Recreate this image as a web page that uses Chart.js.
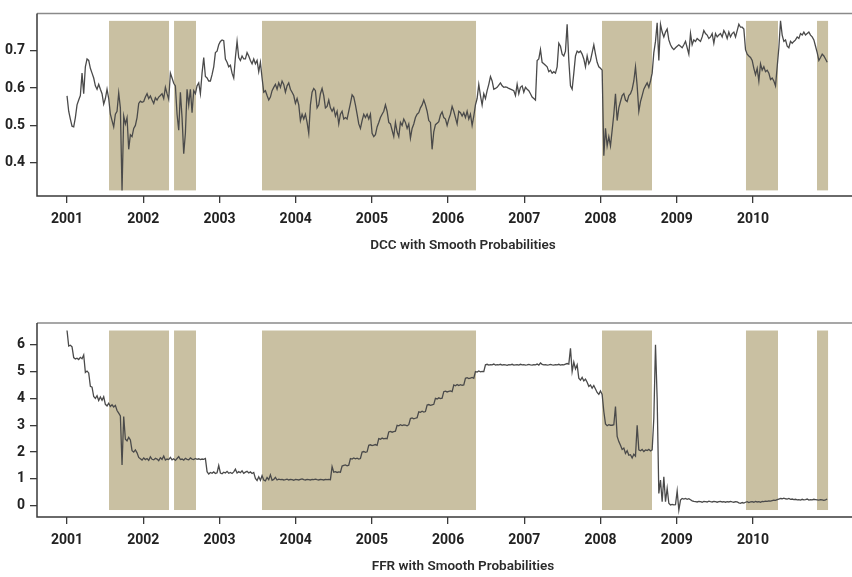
<!DOCTYPE html>
<html>
<head>
<meta charset="utf-8">
<script src="https://cdn.jsdelivr.net/npm/chart.js@4.4.1/dist/chart.umd.min.js"></script>
<style>
  body { margin: 0; background: #fff; }
  #wrap { position: relative; width: 852px; height: 577px; overflow: hidden; }
  #wrap canvas { position: absolute; left: 0; }
  #dccChart { top: 0; }
  #ffrChart { top: 290px; }
</style>
</head>
<body>
<div id="wrap">
  <canvas id="dccChart" width="860" height="290"></canvas>
  <canvas id="ffrChart" width="860" height="287"></canvas>
</div>
<script>
// sampling of both series (decimal years, ~8 days apart)
const seriesStart = 2001.0;
const sampleStep = 0.021872;

const tickYears = [2001, 2002, 2003, 2004, 2005, 2006, 2007, 2008, 2009, 2010];
const dccTicks = [0.4, 0.5, 0.6, 0.7];
const ffrTicks = [0, 1, 2, 3, 4, 5, 6];

// high-volatility regimes (smoothed probabilities), decimal years
const regimeStart = [2001.551, 2002.404, 2003.558, 2008.019, 2009.908, 2010.840];
const regimeEnd   = [2002.338, 2002.692, 2006.366, 2008.675, 2010.328, 2010.985];

// DCC correlation
const dccValues = [
  0.579, 0.538, 0.517, 0.498, 0.496, 0.521, 0.555, 0.568, 0.580, 0.640,
  0.585, 0.657, 0.678, 0.674, 0.653, 0.640, 0.627, 0.606, 0.597, 0.610,
  0.597, 0.585, 0.557, 0.572, 0.597, 0.572, 0.530, 0.513, 0.496, 0.530,
  0.538, 0.587, 0.547, 0.326, 0.525, 0.504, 0.521, 0.436, 0.475, 0.470,
  0.492, 0.500, 0.521, 0.559, 0.565, 0.562, 0.564, 0.576, 0.585, 0.572,
  0.579, 0.568, 0.559, 0.574, 0.568, 0.576, 0.580, 0.585, 0.572, 0.602,
  0.585, 0.570, 0.640, 0.627, 0.613, 0.606, 0.530, 0.487, 0.589, 0.521,
  0.424, 0.479, 0.597, 0.555, 0.597, 0.534, 0.593, 0.585, 0.606, 0.614,
  0.585, 0.640, 0.682, 0.631, 0.627, 0.619, 0.619, 0.636, 0.657, 0.695,
  0.699, 0.716, 0.725, 0.729, 0.727, 0.678, 0.669, 0.657, 0.661, 0.640,
  0.627, 0.682, 0.725, 0.682, 0.674, 0.686, 0.678, 0.678, 0.695, 0.686,
  0.674, 0.665, 0.678,
  0.665, 0.674, 0.644, 0.669, 0.627, 0.589, 0.593, 0.580, 0.568, 0.576,
  0.593, 0.602, 0.610, 0.597, 0.614, 0.602, 0.619, 0.610, 0.589, 0.606,
  0.614, 0.597, 0.589, 0.580, 0.559, 0.572, 0.555, 0.513, 0.530, 0.517,
  0.530, 0.508, 0.479, 0.555, 0.589, 0.599, 0.593, 0.547, 0.555, 0.585,
  0.599, 0.580, 0.547, 0.551, 0.568, 0.547, 0.538, 0.547, 0.525, 0.538,
  0.504, 0.530, 0.538, 0.517, 0.521, 0.517, 0.538, 0.559, 0.582, 0.576,
  0.555, 0.530, 0.504, 0.492, 0.513, 0.530, 0.521, 0.530, 0.517, 0.530,
  0.479, 0.470, 0.475, 0.496, 0.508, 0.521, 0.530, 0.538, 0.555, 0.538,
  0.508, 0.504, 0.487, 0.470, 0.508, 0.483, 0.470, 0.508, 0.500, 0.517,
  0.508, 0.492, 0.504, 0.466, 0.492, 0.504, 0.521, 0.530, 0.534, 0.547,
  0.555, 0.568, 0.555, 0.538, 0.513, 0.508, 0.436, 0.483, 0.502, 0.506,
  0.510, 0.528, 0.536, 0.521, 0.517, 0.500, 0.517,
  0.530, 0.551, 0.538, 0.521, 0.504, 0.538, 0.534, 0.525, 0.534, 0.521,
  0.538, 0.517, 0.530, 0.500, 0.525, 0.555, 0.572, 0.610, 0.580, 0.555,
  0.585, 0.572, 0.593, 0.610, 0.631, 0.619, 0.597, 0.599, 0.602, 0.608,
  0.614, 0.606, 0.602, 0.603, 0.602, 0.599, 0.597, 0.595, 0.593, 0.580,
  0.610, 0.585, 0.602, 0.606, 0.589, 0.602, 0.597, 0.593, 0.585, 0.576,
  0.572, 0.568, 0.674, 0.678, 0.703, 0.669, 0.665, 0.661, 0.657, 0.644,
  0.648, 0.640, 0.644, 0.640, 0.657, 0.720, 0.712, 0.691, 0.686, 0.699,
  0.771, 0.674, 0.606, 0.597, 0.640, 0.686, 0.699, 0.695, 0.699, 0.691,
  0.678, 0.657, 0.686, 0.665, 0.674, 0.695, 0.716, 0.691, 0.669, 0.657,
  0.653, 0.648, 0.419, 0.492, 0.445, 0.470, 0.445, 0.487, 0.530, 0.585,
  0.513, 0.547, 0.564, 0.580, 0.585, 0.568, 0.564, 0.580, 0.585, 0.597,
  0.619, 0.657, 0.606, 0.538, 0.564, 0.580, 0.597,
  0.606, 0.614, 0.602, 0.619, 0.640, 0.695, 0.725, 0.775, 0.674, 0.771,
  0.750, 0.737, 0.750, 0.758, 0.729, 0.716, 0.708, 0.703, 0.708, 0.712,
  0.716, 0.712, 0.708, 0.716, 0.725, 0.708, 0.691, 0.746, 0.716, 0.729,
  0.725, 0.733, 0.729, 0.725, 0.737, 0.754, 0.746, 0.742, 0.733, 0.737,
  0.746, 0.720, 0.746, 0.737, 0.742, 0.746, 0.737, 0.754, 0.746, 0.733,
  0.750, 0.737, 0.746, 0.750, 0.737, 0.754, 0.771, 0.763, 0.763, 0.758,
  0.703, 0.691, 0.686, 0.682, 0.674, 0.653, 0.636, 0.653, 0.619, 0.665,
  0.648, 0.657, 0.644, 0.648, 0.640, 0.623, 0.627, 0.619, 0.606, 0.657,
  0.708, 0.780, 0.742, 0.725, 0.729, 0.712, 0.708, 0.725, 0.720, 0.725,
  0.729, 0.737, 0.733, 0.746, 0.742, 0.750, 0.742, 0.746, 0.750, 0.742,
  0.737, 0.729, 0.712, 0.695, 0.674, 0.682, 0.691, 0.686, 0.678, 0.669
];

// Federal funds rate (%)
const ffrValues = [
  6.53, 5.95, 5.98, 5.92,
  5.52, 5.47, 5.50, 5.45, 5.53, 5.48,
  5.62,
  4.97, 5.02, 4.95,
  4.45, 4.42,
  4.07, 4.00, 4.10, 3.92, 4.05, 3.93, 4.06,
  3.78, 3.72, 3.82, 3.70, 3.76, 3.68, 3.74,
  3.55, 3.45, 3.35,
  1.52,
  3.32,
  2.48, 2.42, 2.55, 2.45,
  2.05, 2.00, 2.08, 1.97,
  1.80, 1.75, 1.70, 1.78, 1.72, 1.76, 1.69, 1.82, 1.73, 1.71,
  1.77, 1.74, 1.68, 1.79, 1.73, 1.85, 1.70, 1.74, 1.72, 1.80,
  1.71, 1.75, 1.69, 1.76, 1.83, 1.72, 1.74, 1.70, 1.77, 1.73,
  1.71, 1.78, 1.74, 1.72, 1.76, 1.73, 1.75, 1.72, 1.74, 1.73,
  1.76,
  1.27, 1.18, 1.24, 1.21, 1.26, 1.20, 1.23, 1.50, 1.22, 1.19,
  1.25, 1.22, 1.28, 1.21, 1.24, 1.20, 1.26, 1.36, 1.22, 1.27,
  1.23, 1.30, 1.21, 1.25, 1.28, 1.22, 1.26, 1.20, 1.24,
  1.02, 0.94, 1.08, 0.95, 1.12, 0.96, 0.93, 1.05, 0.97, 1.15,
  0.95, 0.98, 1.06, 0.96, 0.99, 0.97, 0.98, 0.96, 0.97, 0.99,
  0.96, 0.98, 0.97, 0.95, 0.98, 0.97, 0.96, 0.98, 1.00, 0.97,
  0.96, 0.98, 0.97, 0.96, 0.98, 0.97, 0.99, 0.97, 0.96, 0.98,
  0.97, 0.96, 0.98, 0.97, 0.98, 0.97,
  1.46,
  1.25, 1.27, 1.24, 1.26, 1.25,
  1.48, 1.50, 1.52, 1.49, 1.51,
  1.76, 1.74, 1.78, 1.75, 1.77, 1.74, 1.76,
  2.00, 2.02, 1.99, 2.01,
  2.25, 2.27, 2.24, 2.26, 2.28, 2.25,
  2.50, 2.48, 2.52, 2.49, 2.51, 2.50,
  2.75, 2.77, 2.74, 2.76, 2.78,
  3.00, 2.98, 3.02, 2.99, 3.01, 3.00, 2.98, 3.02,
  3.25, 3.27, 3.24, 3.26, 3.28,
  3.50, 3.48, 3.52, 3.49, 3.51,
  3.75, 3.77, 3.74, 3.76, 3.78,
  4.00, 3.98, 4.02, 3.99, 4.01,
  4.25, 4.27, 4.24, 4.26, 4.28, 4.25,
  4.50, 4.47, 4.52, 4.48, 4.51, 4.49, 4.50,
  4.75, 4.77, 4.74, 4.76, 4.78, 4.75,
  5.00, 4.98, 5.02, 4.99, 5.01, 5.00,
  5.25, 5.27, 5.24, 5.26, 5.25, 5.28, 5.24, 5.26, 5.25, 5.27,
  5.24, 5.26, 5.25, 5.23, 5.26, 5.25, 5.27, 5.24, 5.25, 5.26,
  5.24, 5.27, 5.25, 5.26, 5.24, 5.25, 5.27, 5.25, 5.24, 5.26,
  5.25, 5.28, 5.24, 5.32, 5.27, 5.25, 5.26, 5.24, 5.25, 5.27,
  5.25, 5.24, 5.26, 5.25, 5.27, 5.24, 5.26, 5.25, 5.28, 5.30,
  5.28, 5.87, 5.00, 5.35, 5.10, 5.25,
  4.75, 4.68, 4.78, 4.65, 4.72, 4.60,
  4.45, 4.50, 4.38, 4.48,
  4.35, 4.22, 4.15, 4.28, 4.15,
  3.51,
  3.05, 2.98, 3.02, 3.00, 3.00, 3.02,
  3.70,
  2.58, 2.39,
  2.25, 2.10, 2.15, 1.95, 2.05, 1.88, 1.90, 1.78, 1.92, 1.85, 3.00, 2.08,
  2.05, 2.10, 2.02, 2.08, 2.06, 2.10, 2.04, 2.08,
  3.26, 6.00, 4.00,
  0.46, 0.96, 0.15, 1.08, 0.15, 0.65, 0.09, 0.03,
  0.05, 0.03, 0.04, 0.55, -0.16, 0.21, 0.27,
  0.25, 0.27, 0.24, 0.26, 0.22, 0.18, 0.16,
  0.15, 0.14, 0.16, 0.15, 0.13, 0.16, 0.15, 0.14, 0.17, 0.15,
  0.14, 0.16, 0.15, 0.13, 0.15, 0.16, 0.14, 0.15, 0.13, 0.15,
  0.14, 0.16, 0.14, 0.13, 0.15, 0.14,
  0.11, 0.09, 0.12, 0.10,
  0.13, 0.15, 0.12, 0.14, 0.15, 0.13, 0.16, 0.14, 0.15, 0.13, 0.16, 0.15, 0.17, 0.16, 0.18, 0.17,
  0.19, 0.21, 0.20,
  0.23, 0.25, 0.27, 0.26, 0.28, 0.26, 0.25, 0.27, 0.24, 0.25,
  0.23, 0.24, 0.22, 0.23, 0.21, 0.24, 0.22, 0.23, 0.25, 0.21,
  0.23, 0.22, 0.24, 0.23, 0.22, 0.21, 0.23, 0.22, 0.20, 0.22,
  0.25
];

const shadeColor = 'rgb(201, 192, 162)';
const lineColor = '#4a4a4a';
const fontFamily = 'Roboto, "Liberation Sans", sans-serif';

function toPoints(values) {
    return values.map((v, i) => ({ x: seriesStart + i * sampleStep, y: v }));
}

// shaded regimes + frame + caption
const regimePlugin = {
    id: 'regimes',
    beforeDatasetsDraw(chart) {
        const { ctx, scales: { x, y } } = chart;
        const vals = chart.data.datasets[0].data.map(p => p.y);
        const top = y.getPixelForValue(Math.max(...vals));
        const bottom = y.getPixelForValue(Math.min(...vals));
        ctx.save();
        ctx.fillStyle = shadeColor;
        regimeStart.forEach((s, i) => {
            const x0 = x.getPixelForValue(s);
            const x1 = x.getPixelForValue(regimeEnd[i]);
            ctx.fillRect(x0, top, x1 - x0, bottom - top);
        });
        ctx.restore();
    },
    afterDraw(chart, args, opts) {
        const { ctx, chartArea } = chart;
        ctx.save();
        ctx.strokeStyle = '#8a8a8a';
        ctx.lineWidth = 1.5;
        ctx.beginPath();
        ctx.moveTo(chartArea.left, chartArea.top);
        ctx.lineTo(chartArea.right, chartArea.top);
        ctx.stroke();
        ctx.strokeStyle = '#3a3a3a';
        ctx.beginPath();
        ctx.moveTo(chartArea.left, chartArea.top);
        ctx.lineTo(chartArea.left, chartArea.bottom);
        ctx.lineTo(chartArea.right, chartArea.bottom);
        ctx.stroke();
        ctx.fillStyle = '#2b2b2b';
        ctx.font = '600 13.5px ' + fontFamily;
        ctx.textAlign = 'center';
        ctx.textBaseline = 'middle';
        ctx.fillText(opts.caption, opts.captionX, opts.captionY);
        ctx.restore();
    }
};

function makeChart(id, values, yTicks, yMin, yMax, padTop, xAxisHeight, caption, captionY) {
    const ctx = document.getElementById(id).getContext('2d');
    return new Chart(ctx, {
        type: 'line',
        data: {
            datasets: [{
                data: toPoints(values),
                borderColor: lineColor,
                borderWidth: 1.3,
                pointRadius: 0,
                tension: 0,
                fill: false
            }]
        },
        options: {
            responsive: false,
            animation: false,
            parsing: false,
            layout: { padding: { top: padTop, left: 0, right: 0, bottom: 0 } },
            plugins: {
                legend: { display: false },
                tooltip: { enabled: false },
                regimes: { caption: caption, captionX: 463, captionY: captionY }
            },
            scales: {
                x: {
                    type: 'linear',
                    min: 2000.606,
                    max: 2011.404,
                    afterBuildTicks: s => { s.ticks = tickYears.map(v => ({ value: v })); },
                    afterFit: s => { s.height = xAxisHeight; },
                    border: { display: false },
                    grid: { drawOnChartArea: false, drawTicks: true, tickLength: 7, tickColor: '#3a3a3a', lineWidth: 1.3 },
                    ticks: {
                        padding: 8,
                        color: '#222',
                        font: { family: fontFamily, size: 14, weight: 'bold' },
                        maxRotation: 0,
                        callback: v => String(v)
                    }
                },
                y: {
                    min: yMin,
                    max: yMax,
                    afterBuildTicks: s => { s.ticks = yTicks.map(v => ({ value: v })); },
                    afterFit: s => { s.width = 37; },
                    border: { display: false },
                    grid: { drawOnChartArea: false, drawTicks: true, tickLength: 7, tickColor: '#3a3a3a', lineWidth: 1.3 },
                    ticks: {
                        padding: 5,
                        color: '#222',
                        font: { family: fontFamily, size: 14, weight: 'bold' },
                        callback: v => (yTicks === dccTicks ? v.toFixed(1) : String(v))
                    }
                }
            }
        },
        plugins: [regimePlugin]
    });
}

makeChart('dccChart', dccValues, dccTicks, 0.311, 0.800, 3, 94, 'DCC with Smooth Probabilities', 246);
makeChart('ffrChart', ffrValues, ffrTicks, -0.42, 6.81, 33, 60, 'FFR with Smooth Probabilities', 277);
</script>
</body>
</html>
